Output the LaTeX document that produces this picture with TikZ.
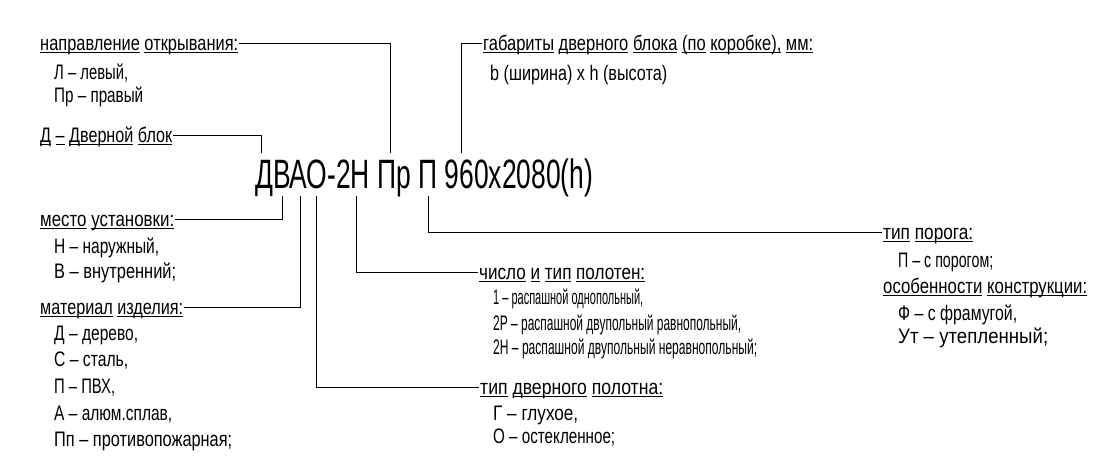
\documentclass[tikz,border=0pt]{standalone}
\usepackage{graphicx}
\usepackage{fontspec}
\setmainfont{Liberation Sans}
\newfontfamily\lblfont[FakeStretch=0.85]{Liberation Sans}
\newfontfamily\codefont[FakeStretch=0.65]{Liberation Sans}
\newcommand\ulw[1]{\setbox0\hbox{#1}\rlap{\rule[-3pt]{\wd0}{0.8pt}}\box0\relax}
\newcommand\fw[2]{\resizebox{#1pt}{\height}{#2}}
\tikzset{
  lbl/.style={anchor=base west, inner sep=0pt, font=\lblfont\fontsize{21}{24}\selectfont},
  codestyle/.style={anchor=base west, inner sep=0pt, font=\codefont\fontsize{41}{46}\selectfont},
  leader/.style={draw=black, line width=0.8pt}
}
\begin{document}
\begin{tikzpicture}[x=1pt,y=-1pt]
\useasboundingbox (0,0) rectangle (1113,474);
% main designation
\node[codestyle] (code) at (255,188) {\fw{338}{ДВАО-2Н Пр П 960x2080(h)}};
% leader end points at the designation
\coordinate (cD) at (261,153);
\coordinate (cPr) at (390,153);
\coordinate (cG) at (461,153);
\coordinate (cV) at (282,196);
\coordinate (cA) at (300,196);
\coordinate (cO) at (316,196);
\coordinate (cN) at (356,196);
\coordinate (cP) at (428,196);
% left column
\node[lbl] (napr) at (40,50) {\fw{198}{\ulw{направление} \ulw{открывания:}}};
\node[lbl] (napr1) at (54,79) {\fw{74}{Л – левый,}};
\node[lbl] (napr2) at (54,102) {\fw{89}{Пр – правый}};
\node[lbl] (dblok) at (40,142) {\fw{132}{\ulw{Д} \ulw{–} \ulw{Дверной} \ulw{блок}}};
\node[lbl] (mesto) at (40,226) {\fw{134}{\ulw{место} \ulw{установки:}}};
\node[lbl] (mesto1) at (54,253) {\fw{105}{Н – наружный,}};
\node[lbl] (mesto2) at (54,278) {\fw{122}{В – внутренний;}};
\node[lbl] (mat) at (40,314) {\fw{143}{\ulw{материал} \ulw{изделия:}}};
\node[lbl] (mat1) at (54,340) {\fw{84}{Д – дерево,}};
\node[lbl] (mat2) at (54,366) {\fw{74}{С – сталь,}};
\node[lbl] (mat3) at (54,393) {\fw{61}{П – ПВХ,}};
\node[lbl] (mat4) at (54,420) {\fw{118}{А – алюм.сплав,}};
\node[lbl] (mat5) at (54,446) {\fw{178}{Пп – противопожарная;}};
% middle column
\node[lbl] (gab) at (483,50) {\fw{330}{\ulw{габариты} \ulw{дверного} \ulw{блока} \ulw{(по} \ulw{коробке),} \ulw{мм:}}};
\node[lbl] (gab1) at (490,80) {\fw{177}{b (ширина) x h (высота)}};
\node[lbl] (chis) at (479,279) {\fw{166}{\ulw{число} \ulw{и} \ulw{тип} \ulw{полотен:}}};
\node[lbl] (chis1) at (493,304) {\fw{150}{1 – распашной однопольный,}};
\node[lbl] (chis2) at (493,330) {\fw{248}{2Р – распашной двупольный равнопольный,}};
\node[lbl] (chis3) at (493,354) {\fw{264}{2Н – распашной двупольный неравнопольный;}};
\node[lbl] (tipd) at (480,394) {\fw{183}{\ulw{тип} \ulw{дверного} \ulw{полотна:}}};
\node[lbl] (tipd1) at (493,420) {\fw{85}{Г – глухое,}};
\node[lbl] (tipd2) at (493,443) {\fw{122}{О – остекленное;}};
% right column
\node[lbl] (por) at (883,239) {\fw{90}{\ulw{тип} \ulw{порога:}}};
\node[lbl] (por1) at (898,267) {\fw{95}{П – с порогом;}};
\node[lbl] (osob) at (883,293) {\fw{204}{\ulw{особенности} \ulw{конструкции:}}};
\node[lbl] (osob1) at (898,320) {\fw{119}{Ф – с фрамугой,}};
\node[lbl] (osob2) at (898,343) {\fw{150}{Ут – утепленный;}};
% leaders
\draw[leader] ([xshift=1pt,yshift=7pt]napr.base east) -| (cPr);
\draw[leader] ([xshift=1pt,yshift=7pt]dblok.base east) -| (cD);
\draw[leader] (cG) |- ([xshift=-1pt,yshift=7pt]gab.base west);
\draw[leader] ([xshift=1pt,yshift=7pt]mesto.base east) -| (cV);
\draw[leader] ([xshift=1pt,yshift=7pt]mat.base east) -| (cA);
\draw[leader] (cO) |- ([xshift=-1pt,yshift=7pt]tipd.base west);
\draw[leader] (cN) |- ([xshift=-1pt,yshift=7pt]chis.base west);
\draw[leader] (cP) |- ([xshift=-1pt,yshift=7pt]por.base west);
\end{tikzpicture}
\end{document}
